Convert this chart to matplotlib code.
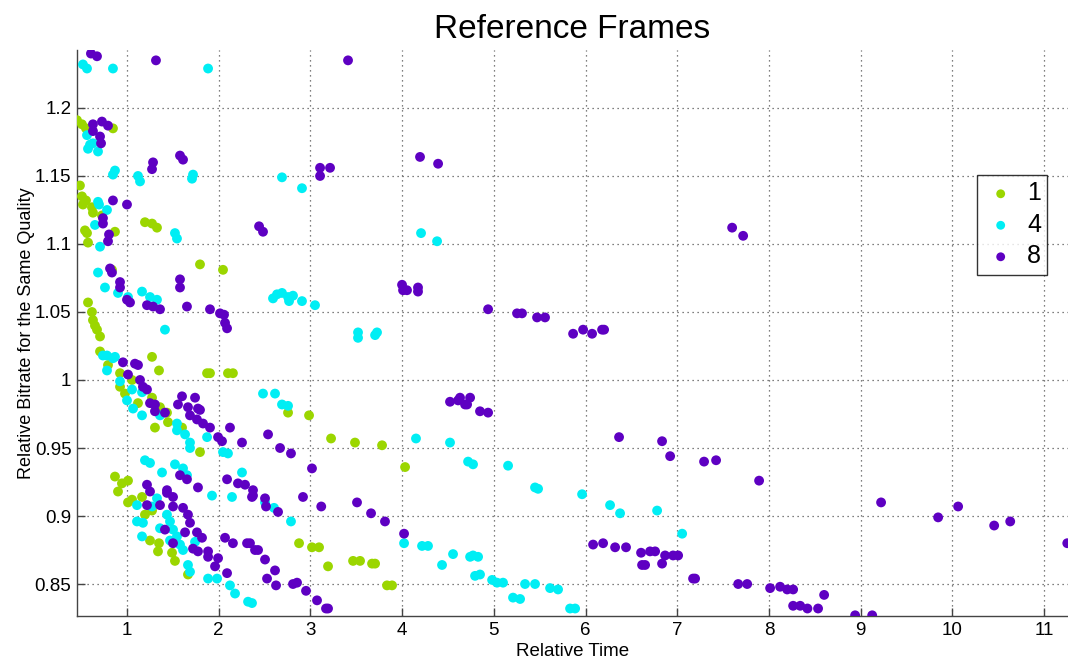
import matplotlib
matplotlib.use("Agg")
import matplotlib.pyplot as plt
from matplotlib.ticker import FuncFormatter

plt.rcParams['font.family'] = ['Liberation Sans', 'DejaVu Sans']

# ---- data: reference frames = 1 ----
x1 = [0.455, 0.509, 0.553, 0.847, 0.487, 0.509, 0.553, 0.520, 0.618, 0.629, 0.727, 0.542, 0.564, 0.575,
      0.869, 1.196, 1.273, 1.327, 1.796, 2.047, 0.836, 0.575, 0.618, 0.629, 0.651, 0.673, 0.706, 0.706,
      1.273, 1.349, 1.873, 1.905, 2.101, 2.155, 0.793, 0.924, 1.055, 0.924, 0.978, 1.120, 1.273, 1.360,
      1.436, 1.447, 1.305, 1.600, 1.796, 0.869, 0.945, 1.011, 0.902, 1.011, 1.055, 1.164, 1.196, 1.273,
      1.251, 1.349, 1.338, 1.491, 1.523, 1.665, 2.756, 2.985, 3.225, 3.486, 3.781, 4.032, 2.876, 3.017,
      3.094, 3.192, 3.465, 3.541, 3.672, 3.705, 3.835, 3.890]
y1 = [1.191, 1.188, 1.185, 1.185, 1.143, 1.135, 1.132, 1.129, 1.127, 1.123, 1.121, 1.110, 1.108, 1.101,
      1.109, 1.116, 1.115, 1.112, 1.085, 1.081, 1.081, 1.057, 1.050, 1.044, 1.040, 1.037, 1.032, 1.021,
      1.017, 1.007, 1.005, 1.005, 1.005, 1.005, 1.011, 1.005, 1.000, 0.995, 0.990, 0.983, 0.987, 0.980,
      0.976, 0.969, 0.965, 0.965, 0.947, 0.929, 0.924, 0.926, 0.918, 0.910, 0.912, 0.914, 0.901, 0.904,
      0.882, 0.880, 0.874, 0.873, 0.867, 0.857, 0.976, 0.974, 0.957, 0.954, 0.952, 0.936, 0.880, 0.877,
      0.877, 0.863, 0.867, 0.867, 0.865, 0.865, 0.849, 0.849]

# ---- data: reference frames = 4 ----
x4 = [0.520, 0.564, 0.847, 1.884, 0.564, 0.597, 0.575, 0.684, 0.629, 0.869, 0.847, 1.120, 1.142, 1.720,
      1.709, 0.684, 0.695, 0.782, 0.651, 0.706, 0.684, 0.760, 0.902, 1.011, 1.164, 1.251, 1.327, 1.523,
      1.545, 1.414, 0.782, 0.869, 0.738, 0.847, 0.782, 0.924, 1.055, 1.164, 1.000, 1.066, 1.164, 1.360,
      1.545, 1.545, 1.633, 1.873, 1.687, 1.687, 2.047, 2.101, 1.196, 1.251, 1.382, 1.523, 1.611, 1.654,
      2.254, 1.109, 1.174, 1.360, 1.436, 1.469, 1.502, 1.164, 1.469, 1.545, 1.578, 1.611, 1.742, 1.665,
      1.687, 1.884, 1.982, 2.123, 2.178, 2.320, 2.363, 1.927, 2.145, 1.327, 1.109, 1.273, 2.690, 2.908,
      4.206, 4.381, 2.592, 2.636, 2.690, 2.756, 2.767, 2.810, 2.908, 3.050, 3.519, 3.519, 3.705, 3.726,
      2.483, 2.614, 2.690, 2.756, 4.151, 4.522, 4.719, 2.505, 2.603, 2.788, 4.021, 4.217, 4.282, 4.435,
      4.555, 4.741, 4.773, 5.155, 5.449, 5.482, 5.962, 6.267, 6.376, 6.780, 7.053, 4.773, 4.828, 4.795,
      4.849, 4.981, 5.035, 5.100, 5.209, 5.286, 5.340, 5.449, 5.613, 5.700, 5.831, 5.886]
y4 = [1.232, 1.229, 1.229, 1.229, 1.180, 1.173, 1.170, 1.168, 1.174, 1.154, 1.151, 1.150, 1.146, 1.151,
      1.148, 1.131, 1.129, 1.125, 1.114, 1.098, 1.079, 1.068, 1.064, 1.061, 1.065, 1.061, 1.059, 1.108,
      1.104, 1.037, 1.018, 1.017, 1.018, 1.016, 1.007, 0.999, 0.993, 0.991, 0.985, 0.979, 0.974, 0.974,
      0.968, 0.963, 0.960, 0.958, 0.954, 0.950, 0.947, 0.946, 0.941, 0.939, 0.932, 0.938, 0.935, 0.930,
      0.932, 0.896, 0.895, 0.891, 0.901, 0.896, 0.890, 0.885, 0.882, 0.885, 0.879, 0.875, 0.881, 0.864,
      0.859, 0.854, 0.854, 0.849, 0.843, 0.837, 0.836, 0.915, 0.914, 0.913, 0.908, 0.907, 1.149, 1.141,
      1.108, 1.102, 1.060, 1.063, 1.064, 1.061, 1.058, 1.062, 1.058, 1.055, 1.035, 1.031, 1.033, 1.035,
      0.990, 0.990, 0.982, 0.981, 0.957, 0.954, 0.940, 0.910, 0.906, 0.896, 0.880, 0.878, 0.878, 0.864,
      0.872, 0.870, 0.938, 0.937, 0.921, 0.920, 0.916, 0.908, 0.902, 0.904, 0.887, 0.871, 0.870, 0.856,
      0.857, 0.853, 0.851, 0.851, 0.840, 0.839, 0.850, 0.850, 0.847, 0.846, 0.832, 0.832]

# ---- data: reference frames = 8 ----
x8 = [0.607, 0.673, 1.316, 3.410, 0.629, 0.727, 0.793, 0.629, 0.706, 0.717, 1.284, 1.273, 1.578, 1.611,
      0.847, 1.000, 0.738, 0.738, 0.804, 0.793, 0.815, 0.836, 0.924, 0.924, 1.000, 1.033, 1.578, 1.578,
      1.218, 1.284, 1.360, 1.654, 1.905, 2.014, 2.058, 2.069, 2.091, 2.440, 2.483, 3.105, 3.214, 3.105,
      4.195, 4.392, 3.999, 4.010, 4.053, 4.173, 4.173, 0.956, 1.087, 1.120, 1.011, 1.142, 1.174, 1.218,
      1.600, 1.742, 1.556, 1.665, 1.774, 1.796, 1.687, 1.251, 1.305, 1.305, 1.414, 1.763, 1.829, 1.905,
      2.123, 1.993, 2.036, 2.254, 2.091, 2.210, 2.287, 2.374, 1.218, 1.251, 1.436, 1.578, 1.654, 1.774,
      1.436, 1.502, 1.218, 1.360, 1.502, 1.611, 1.665, 1.687, 1.414, 1.633, 1.763, 1.818, 1.502, 1.720,
      1.774, 1.884, 1.884, 1.993, 1.960, 2.091, 2.069, 2.155, 2.309, 2.396, 2.363, 2.538, 2.669, 2.788,
      3.017, 2.374, 2.505, 2.516, 2.647, 2.919, 3.118, 3.508, 3.661, 3.813, 4.021, 2.341, 2.429, 2.505,
      2.614, 2.527, 2.625, 2.810, 2.854, 2.952, 3.072, 3.170, 3.192, 4.522, 4.610, 4.708, 4.631, 4.741,
      4.686, 4.849, 4.937, 4.937, 5.253, 5.307, 5.471, 5.558, 5.864, 5.973, 6.071, 6.180, 6.202, 6.365,
      6.834, 6.922, 7.292, 7.423, 6.082, 6.191, 6.322, 6.441, 6.605, 6.703, 6.758, 6.867, 6.954, 7.009,
      6.616, 6.649, 6.834, 7.172, 7.194, 7.598, 7.718, 7.892, 9.222, 9.844, 10.062, 10.455, 10.630,
      11.252, 7.664, 7.762, 8.012, 8.121, 8.198, 8.263, 8.601, 8.263, 8.340, 8.419, 8.535, 8.939, 9.125]
y8 = [1.240, 1.238, 1.235, 1.235, 1.188, 1.190, 1.187, 1.183, 1.179, 1.174, 1.160, 1.155, 1.165, 1.162,
      1.132, 1.129, 1.119, 1.115, 1.107, 1.102, 1.082, 1.079, 1.072, 1.068, 1.059, 1.057, 1.074, 1.068,
      1.055, 1.054, 1.052, 1.054, 1.052, 1.049, 1.048, 1.042, 1.038, 1.113, 1.109, 1.156, 1.156, 1.150,
      1.164, 1.159, 1.070, 1.066, 1.066, 1.068, 1.065, 1.013, 1.012, 1.011, 1.004, 1.000, 0.995, 0.993,
      0.988, 0.987, 0.982, 0.980, 0.979, 0.978, 0.974, 0.983, 0.982, 0.977, 0.976, 0.971, 0.968, 0.965,
      0.965, 0.958, 0.955, 0.954, 0.927, 0.924, 0.923, 0.919, 0.923, 0.918, 0.919, 0.930, 0.927, 0.921,
      0.917, 0.914, 0.908, 0.908, 0.907, 0.906, 0.901, 0.895, 0.890, 0.888, 0.888, 0.884, 0.880, 0.876,
      0.874, 0.874, 0.870, 0.869, 0.863, 0.858, 0.884, 0.880, 0.880, 0.875, 0.914, 0.960, 0.950, 0.946,
      0.935, 0.915, 0.913, 0.907, 0.903, 0.914, 0.907, 0.910, 0.902, 0.896, 0.887, 0.880, 0.875, 0.868,
      0.860, 0.854, 0.849, 0.850, 0.851, 0.845, 0.838, 0.832, 0.832, 0.984, 0.985, 0.982, 0.987, 0.987,
      0.982, 0.977, 0.976, 1.052, 1.049, 1.049, 1.046, 1.046, 1.034, 1.037, 1.034, 1.037, 1.037, 0.958,
      0.955, 0.944, 0.940, 0.941, 0.879, 0.880, 0.877, 0.877, 0.873, 0.874, 0.874, 0.871, 0.871, 0.871,
      0.864, 0.864, 0.865, 0.854, 0.854, 1.112, 1.106, 0.926, 0.910, 0.899, 0.907, 0.893, 0.896,
      0.880, 0.850, 0.850, 0.847, 0.848, 0.846, 0.846, 0.842, 0.834, 0.834, 0.832, 0.832, 0.827, 0.827]

series_labels = ['1', '4', '8']
series_colors = ['#9bd600', '#00eef4', '#5e00c2']

xticks = [1, 2, 3, 4, 5, 6, 7, 8, 9, 10, 11]
yticks = [0.85, 0.9, 0.95, 1.0, 1.05, 1.1, 1.15, 1.2]

fig = plt.figure(figsize=(10.68, 6.66), dpi=100)
ax = fig.add_axes([0.0721, 0.0751, 0.9279, 0.8498])

for xs, ys, lab, col in zip([x1, x4, x8], [y1, y4, y8], series_labels, series_colors):
    ax.scatter(xs, ys, s=50, c=col, edgecolors='none', label=lab, zorder=3, clip_on=True)

ax.set_xlim(0.455, 11.26)
ax.set_ylim(0.8265, 1.2426)
ax.set_xticks(xticks)
ax.set_yticks(yticks)
ax.xaxis.set_major_formatter(FuncFormatter(lambda v, p: '%g' % v))
ax.yaxis.set_major_formatter(FuncFormatter(lambda v, p: '%g' % v))

ax.grid(True, linestyle=(0, (1, 3)), color='#555555', linewidth=0.9)
ax.set_axisbelow(True)
for side in ['top', 'right']:
    ax.spines[side].set_visible(False)
for side in ['left', 'bottom']:
    ax.spines[side].set_color('#444444')
    ax.spines[side].set_linewidth(1.0)
ax.tick_params(direction='in', length=6, width=1, colors='#444444', labelcolor='black',
               labelsize=13.5, pad=4)

ax.set_xlabel('Relative Time', fontsize=13.5, labelpad=3)
ax.set_ylabel('Relative Bitrate for the Same Quality', fontsize=13, labelpad=0)
ax.set_title('Reference Frames', fontsize=24, pad=9)

leg = ax.legend(loc='upper right', bbox_to_anchor=(0.979, 0.779), borderaxespad=0, fontsize=18,
                frameon=True, fancybox=False, edgecolor='black', handletextpad=0.35, borderpad=0.25,
                labelspacing=0.3, markerscale=0.9, scatterpoints=1, handlelength=1.4)
leg.get_frame().set_linewidth(1.0)

fig.savefig('out.png', dpi=100)
